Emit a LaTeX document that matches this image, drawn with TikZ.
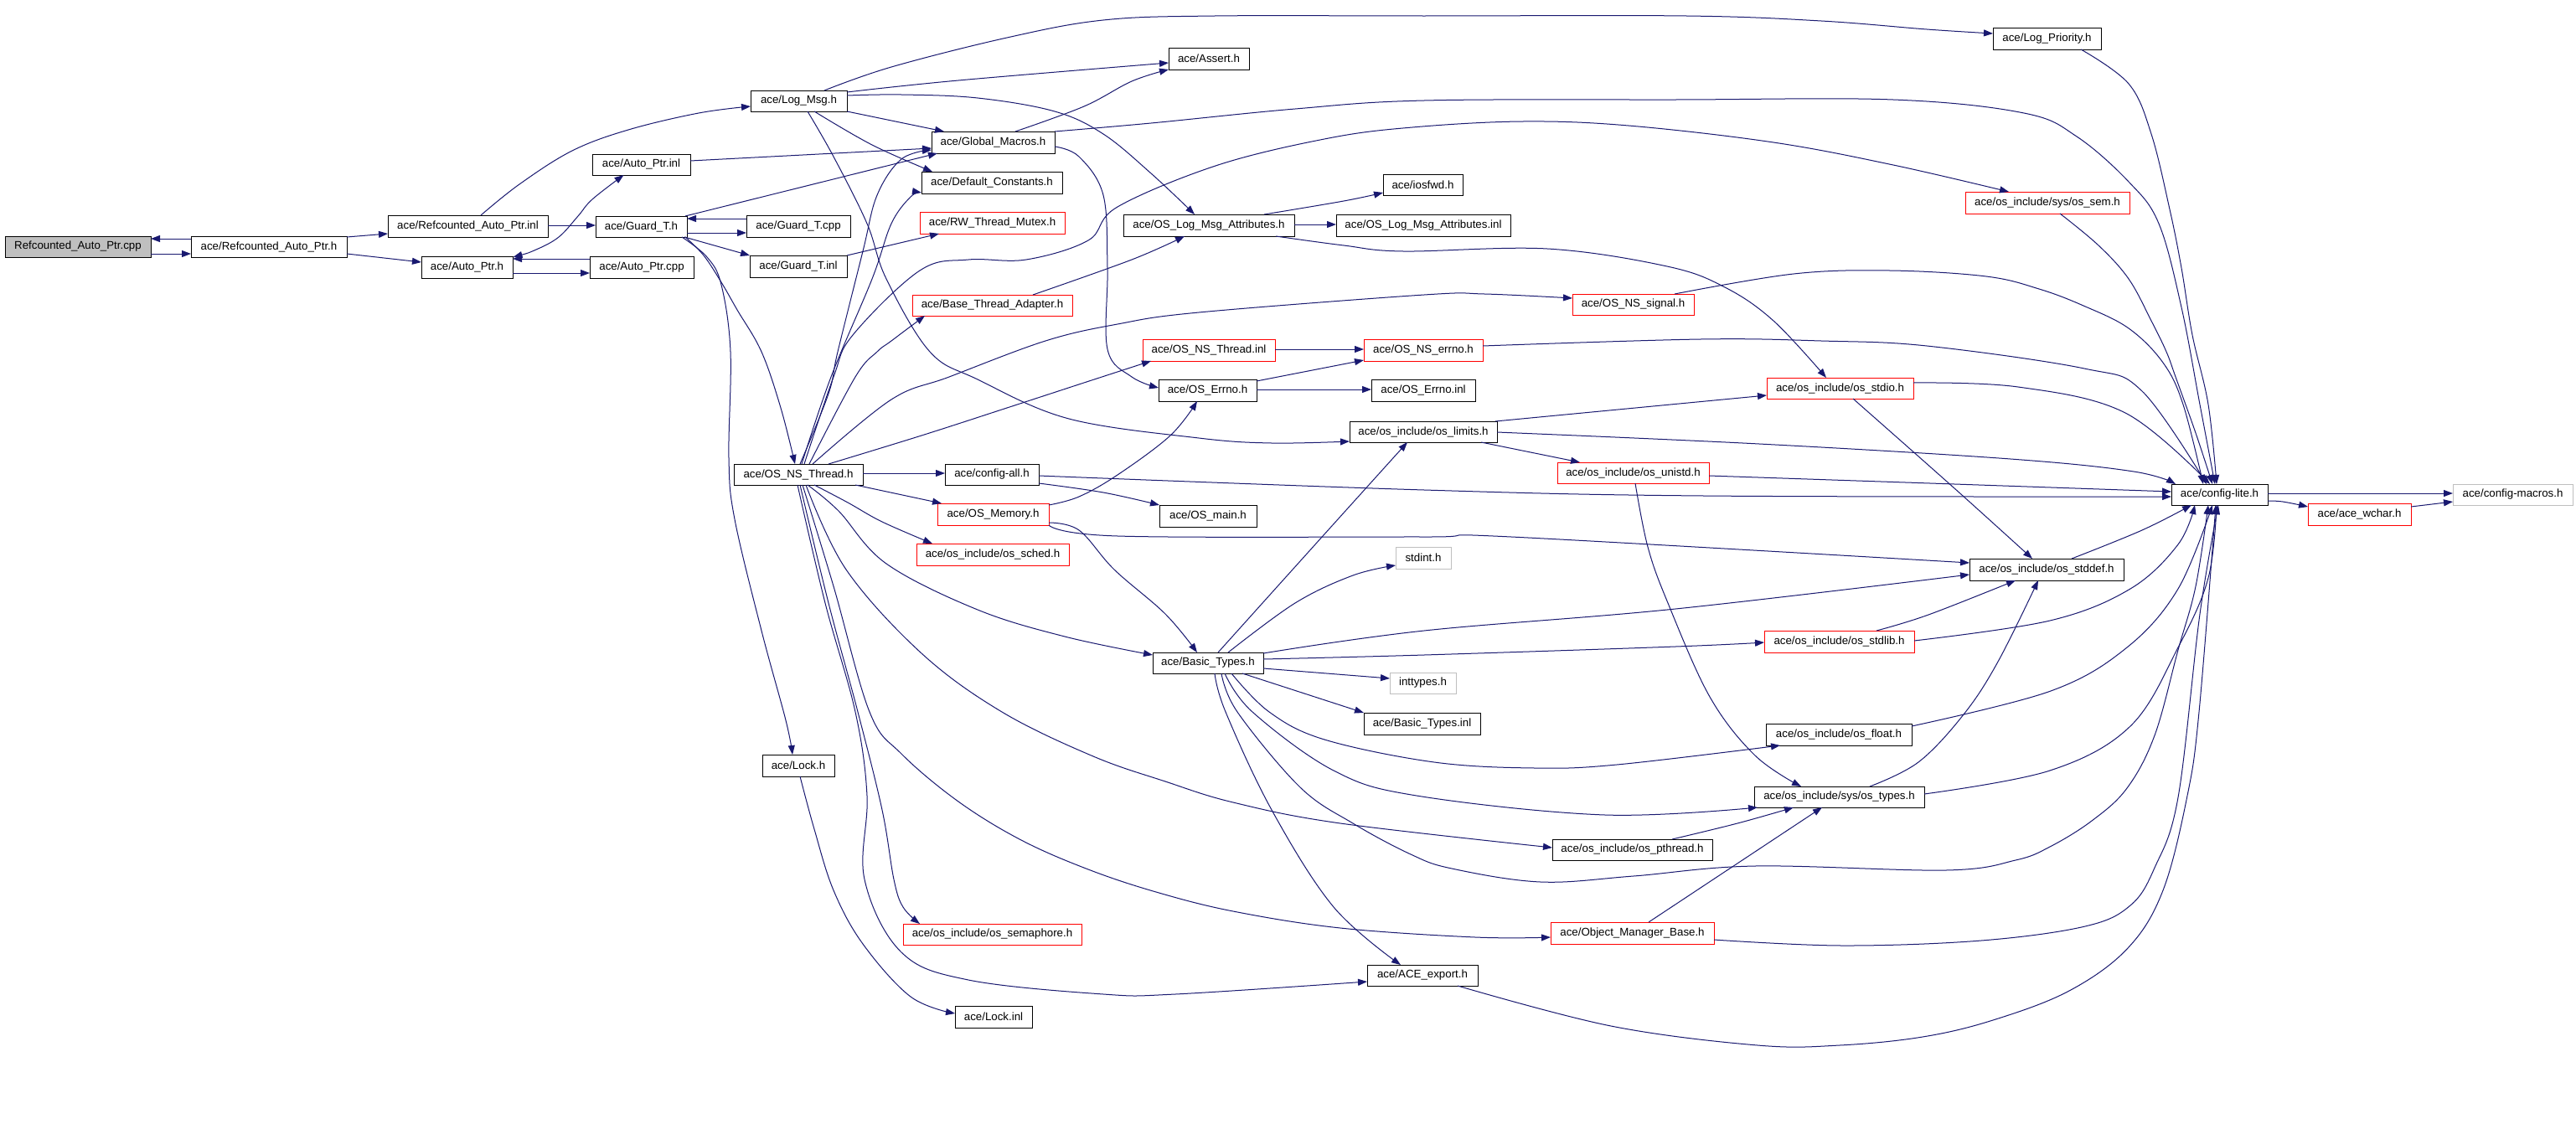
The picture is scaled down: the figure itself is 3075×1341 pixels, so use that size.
\documentclass[tikz,border=0pt]{standalone}
\usepackage{fontspec}
\setmainfont{Liberation Sans}
\usetikzlibrary{arrows.meta}
\definecolor{edgec}{HTML}{191970}
\definecolor{redb}{HTML}{FF0000}
\definecolor{grayb}{HTML}{BFBFBF}
\newcommand\mybox[7]{\node[#1, minimum width={#5-#3}, minimum height={#6-#4}] (#2) at ({(#3+#5)/2},{(#4+#6)/2}) {#7};}
\begin{document}
\begin{tikzpicture}[x=1pt,y=-1pt,
  basebox/.style={draw, line width=1pt, fill=white, inner sep=0pt, font=\fontsize{13.3}{15}\selectfont, text=black},
  nb/.style={basebox, draw=black},
  nr/.style={basebox, draw=redb},
  ng/.style={basebox, draw=grayb},
  rootbox/.style={basebox, draw=black, fill=grayb},
  edge/.style={draw=edgec, line width=1pt, -{Triangle[length=11pt,width=8pt]}},
  edgeboth/.style={draw=edgec, line width=1pt, {Triangle[length=11pt,width=8pt]}-{Triangle[length=11pt,width=8pt]}}]
\fill[white] (0,0) rectangle (3075,1341);
\useasboundingbox (0,0) rectangle (3075,1341);
\mybox{rootbox}{cpp}{6}{282}{180}{307}{Refcounted\_Auto\_Ptr.cpp}
\mybox{nb}{raph}{228}{282}{414}{307}{ace/Refcounted\_Auto\_Ptr.h}
\mybox{nb}{rapinl}{463}{257}{654}{283}{ace/Refcounted\_Auto\_Ptr.inl}
\mybox{nb}{aph}{503}{306}{612}{332}{ace/Auto\_Ptr.h}
\mybox{nb}{apcpp}{704}{306}{828}{332}{ace/Auto\_Ptr.cpp}
\mybox{nb}{apinl}{707}{184}{824}{209}{ace/Auto\_Ptr.inl}
\mybox{nb}{gth}{711}{258}{820}{283}{ace/Guard\_T.h}
\mybox{nb}{gtcpp}{891}{257}{1015}{283}{ace/Guard\_T.cpp}
\mybox{nb}{gtinl}{895}{305}{1011}{331}{ace/Guard\_T.inl}
\mybox{nb}{logmsg}{896}{108}{1011}{133}{ace/Log\_Msg.h}
\mybox{nb}{gm}{1112}{157}{1259}{183}{ace/Global\_Macros.h}
\mybox{nb}{dc}{1100}{205}{1268}{231}{ace/Default\_Constants.h}
\mybox{nr}{rwtm}{1098}{253}{1271}{279}{ace/RW\_Thread\_Mutex.h}
\mybox{nr}{bta}{1089}{352}{1280}{377}{ace/Base\_Thread\_Adapter.h}
\mybox{nb}{assert}{1395}{57}{1491}{83}{ace/Assert.h}
\mybox{nb}{olma}{1341}{256}{1545}{282}{ace/OS\_Log\_Msg\_Attributes.h}
\mybox{nb}{olmainl}{1595}{256}{1803}{282}{ace/OS\_Log\_Msg\_Attributes.inl}
\mybox{nb}{iosfwd}{1651}{208}{1746}{233}{ace/iosfwd.h}
\mybox{nr}{nsthinl}{1364}{405}{1522}{431}{ace/OS\_NS\_Thread.inl}
\mybox{nr}{nserrno}{1628}{405}{1770}{431}{ace/OS\_NS\_errno.h}
\mybox{nr}{nssignal}{1877}{351}{2022}{376}{ace/OS\_NS\_signal.h}
\mybox{nb}{logprio}{2379}{33}{2508}{59}{ace/Log\_Priority.h}
\mybox{nr}{ossem}{2346}{229}{2542}{255}{ace/os\_include/sys/os\_sem.h}
\mybox{nb}{nsth}{876}{554}{1030}{579}{ace/OS\_NS\_Thread.h}
\mybox{nb}{cfgall}{1128}{554}{1240}{579}{ace/config-all.h}
\mybox{nr}{osmem}{1119}{601}{1252}{627}{ace/OS\_Memory.h}
\mybox{nr}{sched}{1094}{649}{1276}{675}{ace/os\_include/os\_sched.h}
\mybox{nb}{osmain}{1384}{603}{1500}{629}{ace/OS\_main.h}
\mybox{nb}{oserrno}{1383}{453}{1500}{479}{ace/OS\_Errno.h}
\mybox{nb}{bt}{1376}{779}{1508}{804}{ace/Basic\_Types.h}
\mybox{nb}{oserrinl}{1637}{453}{1761}{479}{ace/OS\_Errno.inl}
\mybox{nb}{limits}{1611}{503}{1787}{528}{ace/os\_include/os\_limits.h}
\mybox{nr}{stdio}{2109}{451}{2284}{476}{ace/os\_include/os\_stdio.h}
\mybox{nr}{unistd}{1859}{552}{2040}{577}{ace/os\_include/os\_unistd.h}
\mybox{ng}{stdint}{1666}{653}{1732}{679}{stdint.h}
\mybox{ng}{inttypes}{1659}{803}{1738}{828}{inttypes.h}
\mybox{nb}{btinl}{1628}{851}{1767}{877}{ace/Basic\_Types.inl}
\mybox{nr}{stdlib}{2106}{753}{2285}{779}{ace/os\_include/os\_stdlib.h}
\mybox{nb}{cfglite}{2592}{578}{2707}{603}{ace/config-lite.h}
\mybox{ng}{cfgmacros}{2928}{578}{3071}{603}{ace/config-macros.h}
\mybox{nr}{wchar}{2755}{601}{2878}{627}{ace/ace\_wchar.h}
\mybox{nb}{stddef}{2351}{667}{2535}{693}{ace/os\_include/os\_stddef.h}
\mybox{nb}{osfloat}{2108}{864}{2282}{890}{ace/os\_include/os\_float.h}
\mybox{nb}{types}{2094}{939}{2297}{964}{ace/os\_include/sys/os\_types.h}
\mybox{nb}{pthread}{1853}{1002}{2044}{1027}{ace/os\_include/os\_pthread.h}
\mybox{nr}{omb}{1851}{1101}{2046}{1127}{ace/Object\_Manager\_Base.h}
\mybox{nb}{export}{1632}{1152}{1764}{1177}{ace/ACE\_export.h}
\mybox{nb}{lockh}{910}{901}{996}{927}{ace/Lock.h}
\mybox{nr}{semaphore}{1078}{1103}{1291}{1128}{ace/os\_include/os\_semaphore.h}
\mybox{nb}{lockinl}{1140}{1201}{1232}{1227}{ace/Lock.inl}
% edges
\draw[edge] ([shift={(87,8.5)}]cpp.center) -- ([shift={(-93,8.5)}]raph.center);
\draw[edge] ([shift={(-93,-9.5)}]raph.center) -- ([shift={(87,-9.5)}]cpp.center);
\draw[edge] ([shift={(93,-11.5)}]raph.center) -- ([shift={(-95.5,9)}]rapinl.center);
\draw[edge] ([shift={(93,8.5)}]raph.center) -- ([shift={(-54.5,-6)}]aph.center);
\draw[edge] ([shift={(95.5,-1)}]rapinl.center) -- ([shift={(-54.5,-1.5)}]gth.center);
\draw[edge] plot[smooth,tension=0.6] coordinates {([shift={(15.5,-13)}]rapinl.center) (620,220) (683,180) (750,155) (834,135) ([shift={(-57.5,6.5)}]logmsg.center)};
\draw[edge] ([shift={(54.5,7)}]aph.center) -- ([shift={(-62,7)}]apcpp.center);
\draw[edge] ([shift={(-62,-10)}]apcpp.center) -- ([shift={(54.5,-10)}]aph.center);
\draw[edgeboth] plot[smooth,tension=0.6] coordinates {([shift={(55,-12)}]aph.center) (640,298) (667,283) (690,258) (707,238) ([shift={(-21,12.5)}]apinl.center)};
\draw[edge] ([shift={(54.5,7.5)}]gth.center) -- ([shift={(-62,8)}]gtcpp.center);
\draw[edge] ([shift={(-62,-9)}]gtcpp.center) -- ([shift={(54.5,-9.5)}]gth.center);
\draw[edge] ([shift={(51.5,12.5)}]gth.center) -- ([shift={(-58,-13)}]gtinl.center);
\draw[edge] ([shift={(52.5,-12.5)}]gth.center) -- ([shift={(-66.5,13)}]gm.center);
\draw[edge] ([shift={(58.5,-4.5)}]apinl.center) -- ([shift={(-73.5,7)}]gm.center);
\draw[edge] plot[smooth,tension=0.6] coordinates {([shift={(52.5,12.5)}]gth.center) (840,305) (861,337) (880,370) (909,420) (932,487) ([shift={(-4,-12.5)}]nsth.center)};
\draw[edge] plot[smooth,tension=0.6] coordinates {([shift={(48.5,12.5)}]gth.center) (844,307) (861,340) (872,420) (870,547) (877,620) (909,753) (938,860) ([shift={(-7,-13)}]lockh.center)};
\draw[edge] ([shift={(58,-13)}]gtinl.center) -- ([shift={(-63.5,13)}]rwtm.center);
\draw[edge] plot[smooth,tension=0.6] coordinates {([shift={(30.5,-12.5)}]logmsg.center) (1064,80) (1202,45) (1317,24) (1450,19) (1700,19) (2013,19) (2174,25) (2300,35) ([shift={(-64.5,-6)}]logprio.center)};
\draw[edge] plot[smooth,tension=0.6] coordinates {([shift={(57.5,-10.5)}]logmsg.center) (1144,96) ([shift={(-48,5)}]assert.center)};
\draw[edge] ([shift={(57.5,12.5)}]logmsg.center) -- ([shift={(-58.5,-13)}]gm.center);
\draw[edge] plot[smooth,tension=0.6] coordinates {([shift={(18.5,12.5)}]logmsg.center) (1041,173) ([shift={(-71,-13)}]dc.center)};
\draw[edge] plot[smooth,tension=0.6] coordinates {([shift={(57.5,-6.5)}]logmsg.center) (1076,113) (1167,117) (1259,133) (1317,160) (1374,207) ([shift={(-17,-13)}]olma.center)};
\draw[edge] plot[smooth,tension=0.6] coordinates {([shift={(10.5,12.5)}]logmsg.center) (995,187) (1035,267) (1058,333) (1110,420) (1167,453) (1276,500) (1431,523) (1518,529) ([shift={(-88,11.5)}]limits.center)};
\draw[edge] plot[smooth,tension=0.6] coordinates {([shift={(26.5,-13)}]gm.center) (1294,127) (1351,97) ([shift={(-48,13)}]assert.center)};
\draw[edge] plot[smooth,tension=0.6] coordinates {([shift={(73.5,-13)}]gm.center) (1374,147) (1546,130) (1700,120) (2000,119) (2260,119) (2416,135) (2479,163) (2541,217) (2577,267) (2604,367) (2626,483) ([shift={(-5.5,-12.5)}]cfglite.center)};
\draw[edge] plot[smooth,tension=0.6] coordinates {([shift={(73.5,5)}]gm.center) (1288,187) (1317,233) (1322,320) (1322,417) (1351,450) ([shift={(-58.5,-3)}]oserrno.center)};
\draw[edge] plot[smooth,tension=0.6] coordinates {([shift={(66,-13)}]olma.center) (1604,240) ([shift={(-47.5,9.5)}]iosfwd.center)};
\draw[edge] ([shift={(102,-1)}]olma.center) -- ([shift={(-104,-1)}]olmainl.center);
\draw[edge] plot[smooth,tension=0.6] coordinates {([shift={(80,13)}]olma.center) (1604,293) (1675,300) (1847,297) (1990,318) (2059,343) (2117,383) ([shift={(-16.5,-12.5)}]stdio.center)};
\draw[edge] plot[smooth,tension=0.6] coordinates {([shift={(48.5,-12.5)}]bta.center) (1351,310) ([shift={(-29,13)}]olma.center)};
\draw[edge] ([shift={(79,-1)}]nsthinl.center) -- ([shift={(-71,-1)}]nserrno.center);
\draw[edge] ([shift={(58.5,-11)}]oserrno.center) -- ([shift={(-71,12)}]nserrno.center);
\draw[edge] ([shift={(58.5,-1)}]oserrno.center) -- ([shift={(-62,-1)}]oserrinl.center);
\draw[edge] plot[smooth,tension=0.6] coordinates {([shift={(71,-5)}]nserrno.center) (2030,405) (2174,407) (2300,413) (2488,440) (2557,467) ([shift={(-15.5,-12.5)}]cfglite.center)};
\draw[edge] plot[smooth,tension=0.6] coordinates {([shift={(49.5,-12.5)}]nssignal.center) (2141,327) (2256,323) (2371,330) (2434,345) (2487,365) (2541,392) (2582,433) (2606,483) ([shift={(-19.5,-12.5)}]cfglite.center)};
\draw[edge] plot[smooth,tension=0.6] coordinates {([shift={(15,13)}]ossem.center) (2505,293) (2541,333) (2568,383) (2586,420) (2597,450) (2621,517) ([shift={(-8.5,-12.5)}]cfglite.center)};
\draw[edge] plot[smooth,tension=0.6] coordinates {([shift={(40.5,13)}]logprio.center) (2541,100) (2568,160) (2590,250) (2604,320) (2617,400) (2636,483) ([shift={(-3.5,-12.5)}]cfglite.center)};
\draw[edge] plot[smooth,tension=0.6] coordinates {([shift={(87.5,-6.5)}]stdio.center) (2409,462) (2537,493) ([shift={(-11.5,-12.5)}]cfglite.center)};
\draw[edge] plot[smooth,tension=0.6] coordinates {([shift={(88,0.5)}]limits.center) (2100,530) (2400,548) (2547,563) ([shift={(-52.5,-12.5)}]cfglite.center)};
\draw[edge] plot[smooth,tension=0.6] coordinates {([shift={(90.5,3.5)}]unistd.center) (2333,578) ([shift={(-57.5,-3.5)}]cfglite.center)};
\draw[edge] plot[smooth,tension=0.6] coordinates {([shift={(56,1.5)}]cfgall.center) (1700,585) (2034,592) ([shift={(-57.5,2.5)}]cfglite.center)};
\draw[edge] plot[smooth,tension=0.6] coordinates {([shift={(2.5,12.5)}]unistd.center) (1967,653) (1991,720) (2041,832) (2095,902) ([shift={(-45.5,-12.5)}]types.center)};
\draw[edge] plot[smooth,tension=0.6] coordinates {([shift={(15.5,12.5)}]stdio.center) (2333,583) ([shift={(-17,-13)}]stddef.center)};
\draw[edge] ([shift={(86,-12.5)}]limits.center) -- ([shift={(-87.5,8.5)}]stdio.center);
\draw[edge] ([shift={(69,12.5)}]limits.center) -- ([shift={(-63.5,-12.5)}]unistd.center);
\draw[edge] ([shift={(77,-1.5)}]nsth.center) -- ([shift={(-56,-1.5)}]cfgall.center);
\draw[edge] ([shift={(68,12.5)}]nsth.center) -- ([shift={(-61.5,-13)}]osmem.center);
\draw[edge] plot[smooth,tension=0.6] coordinates {([shift={(19,12.5)}]nsth.center) (1012,600) (1053,623) ([shift={(-72,-13)}]sched.center)};
\draw[edge] plot[smooth,tension=0.6] coordinates {([shift={(11,12.5)}]nsth.center) (1001,610) (1058,673) (1167,728) (1271,760) ([shift={(-66,-9.5)}]bt.center)};
\draw[edge] plot[smooth,tension=0.6] coordinates {([shift={(56,10.5)}]cfgall.center) (1317,588) ([shift={(-58,-13)}]osmain.center)};
\draw[edge] plot[smooth,tension=0.6] coordinates {([shift={(66.5,-11)}]osmem.center) (1288,593) (1334,567) (1397,520) ([shift={(-12.5,13)}]oserrno.center)};
\draw[edge] plot[smooth,tension=0.6] coordinates {([shift={(66.5,10)}]osmem.center) (1288,633) (1330,680) (1391,733) ([shift={(-13,-12.5)}]bt.center)};
\draw[edge] plot[smooth,tension=0.6] coordinates {([shift={(66.5,13)}]osmem.center) (1334,640) (1700,641) (1804,641) ([shift={(-92,-8)}]stddef.center)};
\draw[edge] plot[smooth,tension=0.6] coordinates {([shift={(2,-12.5)}]nsth.center) (989,470) (1000,420) (1030,300) (1047,233) (1076,190) ([shift={(-73.5,9)}]gm.center)};
\draw[edge] plot[smooth,tension=0.6] coordinates {([shift={(4,-12.5)}]nsth.center) (992,450) (1041,333) (1064,267) (1087,235) ([shift={(-84,12)}]dc.center)};
\draw[edge] plot[smooth,tension=0.6] coordinates {([shift={(13,-12.5)}]nsth.center) (1021,450) (1047,420) (1064,407) ([shift={(-80.5,12.5)}]bta.center)};
\draw[edge] plot[smooth,tension=0.6] coordinates {([shift={(36,-12.5)}]nsth.center) (1100,520) (1202,487) (1300,455) ([shift={(-69,13)}]nsthinl.center)};
\draw[edge] plot[smooth,tension=0.6] coordinates {([shift={(17,-12.5)}]nsth.center) (1064,477) (1133,450) (1248,407) (1334,387) (1431,373) (1700,352) (1772,351) ([shift={(-72.5,-7.5)}]nssignal.center)};
\draw[edge] plot[smooth,tension=0.6] coordinates {([shift={(7,-12.5)}]nsth.center) (995,450) (1018,400) (1098,323) (1156,310) (1225,310) (1299,287) (1334,247) (1454,197) (1586,165) (1686,152) (1818,145) (1944,150) (2117,170) (2260,197) ([shift={(-46,-13)}]ossem.center)};
\draw[edge] plot[smooth,tension=0.6] coordinates {([shift={(2,12.5)}]nsth.center) (989,720) (1024,850) (1053,967) (1067,1050) (1078,1083) ([shift={(-86.5,-12.5)}]semaphore.center)};
\draw[edge] plot[smooth,tension=0.6] coordinates {([shift={(-1,12.5)}]nsth.center) (985,720) (1021,850) (1035,950) (1032,1050) (1076,1137) (1156,1170) (1317,1187) (1403,1187) ([shift={(-66,7.5)}]export.center)};
\draw[edge] plot[smooth,tension=0.6] coordinates {([shift={(5,12.5)}]nsth.center) (995,700) (1038,850) (1076,900) (1144,957) (1219,1003) (1299,1038) (1380,1065) (1472,1088) (1600,1108) (1761,1119) ([shift={(-97.5,5)}]omb.center)};
\draw[edge] plot[smooth,tension=0.6] coordinates {([shift={(9,12.5)}]nsth.center) (1010,680) (1100,780) (1196,850) (1305,903) (1391,933) (1472,958) (1600,983) ([shift={(-95.5,-2.5)}]pthread.center)};
\draw[edge] plot[smooth,tension=0.6] coordinates {([shift={(12,-12.5)}]bt.center) (1570,650) ([shift={(-19,12.5)}]limits.center)};
\draw[edge] plot[smooth,tension=0.6] coordinates {([shift={(24,-12.5)}]bt.center) (1546,720) (1615,687) ([shift={(-33,9)}]stdint.center)};
\draw[edge] plot[smooth,tension=0.6] coordinates {([shift={(66,-11.5)}]bt.center) (1700,753) (2000,727) ([shift={(-92,6)}]stddef.center)};
\draw[edge] plot[smooth,tension=0.6] coordinates {([shift={(66,-4.5)}]bt.center) (1700,782) (2000,772) ([shift={(-89.5,1)}]stdlib.center)};
\draw[edge] ([shift={(66,6.5)}]bt.center) -- ([shift={(-39.5,-5.5)}]inttypes.center);
\draw[edge] ([shift={(41,12.5)}]bt.center) -- ([shift={(-69.5,-13)}]btinl.center);
\draw[edge] plot[smooth,tension=0.6] coordinates {([shift={(28,12.5)}]bt.center) (1515,850) (1581,883) (1712,910) (1832,917) (1930,913) ([shift={(-70,13)}]osfloat.center)};
\draw[edge] plot[smooth,tension=0.6] coordinates {([shift={(20,12.5)}]bt.center) (1495,850) (1592,920) (1691,950) (1916,973) ([shift={(-97.5,12.5)}]types.center)};
\draw[edge] plot[smooth,tension=0.6] coordinates {([shift={(16,12.5)}]bt.center) (1477,850) (1552,940) (1615,983) (1684,1020) (1733,1037) (1839,1053) (1950,1046) (2095,1034) (2323,1039) (2406,1027) (2447,1011) (2497,980) (2539,941) (2572,878) (2600,776) (2621,700) ([shift={(-13.5,12.5)}]cfglite.center)};
\draw[edge] plot[smooth,tension=0.6] coordinates {([shift={(8,12.5)}]bt.center) (1463,850) (1518,967) (1592,1083) ([shift={(-26,-12.5)}]export.center)};
\draw[edge] plot[smooth,tension=0.6] coordinates {([shift={(44.5,-13)}]stdlib.center) (2302,734) ([shift={(-37,13)}]stddef.center)};
\draw[edge] plot[smooth,tension=0.6] coordinates {([shift={(89.5,-1)}]stdlib.center) (2447,741) (2543,703) (2600,650) ([shift={(-29.5,12.5)}]cfglite.center)};
\draw[edge] plot[smooth,tension=0.6] coordinates {([shift={(30,-13)}]stddef.center) (2557,633) ([shift={(-33.5,12.5)}]cfglite.center)};
\draw[edge] plot[smooth,tension=0.6] coordinates {([shift={(36.5,-12.5)}]types.center) (2290,910) (2344,853) (2385,790) ([shift={(-10,13)}]stddef.center)};
\draw[edge] plot[smooth,tension=0.6] coordinates {([shift={(87,-10)}]osfloat.center) (2448,825) (2539,773) (2600,703) ([shift={(-8.5,12.5)}]cfglite.center)};
\draw[edge] plot[smooth,tension=0.6] coordinates {([shift={(101.5,-3.5)}]types.center) (2447,920) (2543,867) (2600,773) (2636,690) ([shift={(-3.5,12.5)}]cfglite.center)};
\draw[edge] plot[smooth,tension=0.6] coordinates {([shift={(97.5,8)}]omb.center) (2199,1129) (2365,1123) (2489,1106) (2543,1081) (2572,1036) (2600,952) (2626,733) ([shift={(-1.5,12.5)}]cfglite.center)};
\draw[edge] plot[smooth,tension=0.6] coordinates {([shift={(42,12.5)}]export.center) (1923,1225) (2098,1248) (2196,1248) (2295,1238) (2379,1218) (2470,1183) (2540,1132) (2582,1063) (2611,950) (2625,850) ([shift={(-4.5,12.5)}]cfglite.center)};
\draw[edge] plot[smooth,tension=0.6] coordinates {([shift={(47.5,-12.5)}]pthread.center) (2074,983) ([shift={(-54.5,12.5)}]types.center)};
\draw[edge] ([shift={(19.5,-13)}]omb.center) -- ([shift={(-20.5,12.5)}]types.center);
\draw[edge] ([shift={(57.5,-1.5)}]cfglite.center) -- ([shift={(-71.5,-1.5)}]cfgmacros.center);
\draw[edge] plot[smooth,tension=0.6] coordinates {([shift={(57.5,7.5)}]cfglite.center) (2725,599) ([shift={(-61.5,-9)}]wchar.center)};
\draw[edge] ([shift={(61.5,-9)}]wchar.center) -- ([shift={(-71.5,8.5)}]cfgmacros.center);
\draw[edge] plot[smooth,tension=0.6] coordinates {([shift={(2,13)}]lockh.center) (972,990) (995,1063) (1030,1127) (1087,1190) ([shift={(-46,-4)}]lockinl.center)};
\end{tikzpicture}
\end{document}
